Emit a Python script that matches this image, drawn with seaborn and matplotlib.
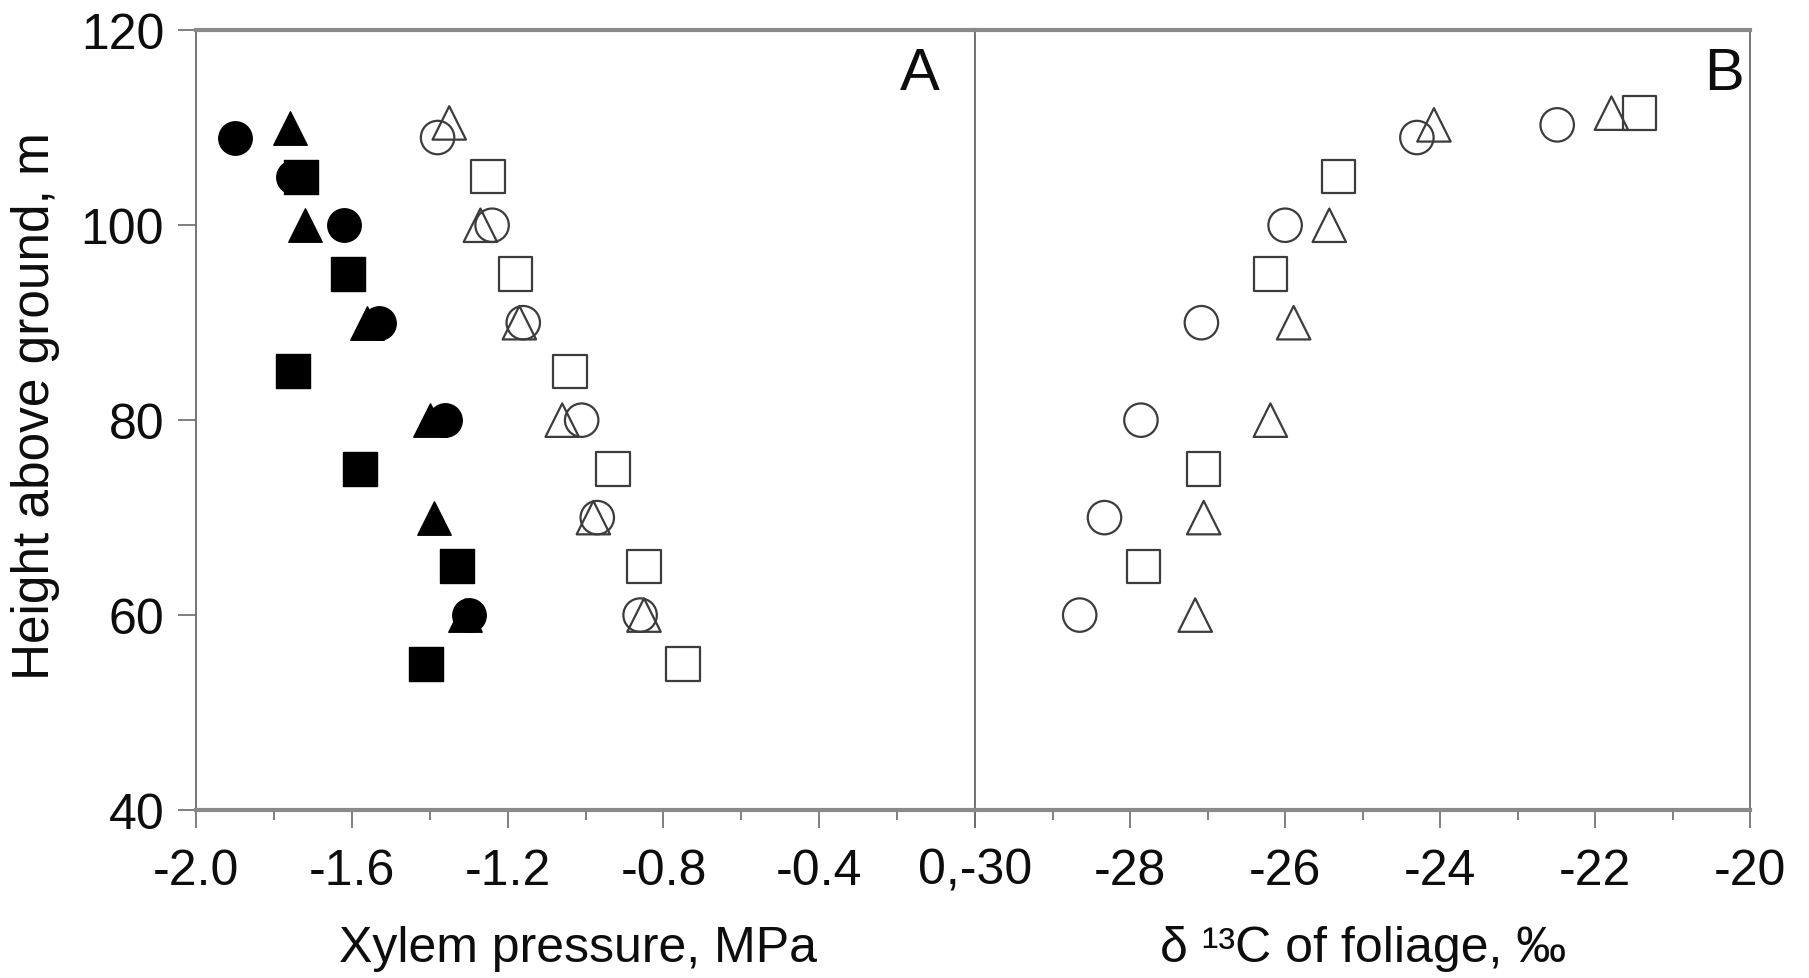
import numpy as np
import pandas as pd
import matplotlib
matplotlib.use("Agg")
import matplotlib.pyplot as plt
from matplotlib.ticker import MultipleLocator, FixedLocator
import seaborn as sns

# ── data ─────────────────────────────────────────────────────────────────────
# Panel A: xylem pressure (MPa) vs height (m)
a_fill_circle_x = [-1.90, -1.75, -1.62, -1.53, -1.36, -1.30]
a_fill_circle_y = [109, 105, 100, 90, 80, 60]
a_fill_tri_x = [-1.76, -1.72, -1.56, -1.40, -1.39, -1.31]
a_fill_tri_y = [110, 100, 90, 80, 70, 60]
a_fill_sq_x = [-1.73, -1.61, -1.75, -1.58, -1.33, -1.41]
a_fill_sq_y = [105, 95, 85, 75, 65, 55]

a_open_circle_x = [-1.38, -1.24, -1.16, -1.01, -0.97, -0.86]
a_open_circle_y = [109, 100, 90, 80, 70, 60]
a_open_tri_x = [-1.35, -1.27, -1.17, -1.06, -0.98, -0.85]
a_open_tri_y = [110.5, 100, 90, 80, 70, 60]
a_open_sq_x = [-1.25, -1.18, -1.04, -0.93, -0.85, -0.75]
a_open_sq_y = [105, 95, 85, 75, 65, 55]

# Panel B: delta 13C of foliage (per mil) vs height (m)
b_circle_x = [-28.65, -28.33, -27.86, -27.08, -26.00, -24.30, -22.49]
b_circle_y = [60, 70, 80, 90, 100, 109, 110.3]
b_tri_x = [-27.16, -27.05, -26.19, -25.89, -25.43, -24.08, -21.79]
b_tri_y = [60, 70, 80, 90, 100, 110.3, 111.5]
b_sq_x = [-27.83, -27.05, -26.19, -25.31, -21.43]
b_sq_y = [65, 75, 95, 105, 111.5]

y_ticks = [40, 60, 80, 100, 120]
a_ticks = [-2.0, -1.6, -1.2, -0.8, -0.4, 0.0]
a_tick_labels = ["-2.0", "-1.6", "-1.2", "-0.8", "-0.4", ""]
b_ticks = [-30, -28, -26, -24, -22, -20]
b_tick_labels = ["0,-30", "-28", "-26", "-24", "-22", "-20"]

# ── style ────────────────────────────────────────────────────────────────────
sns.set_theme(style="ticks")
plt.rcParams["font.family"] = ["Liberation Sans", "DejaVu Sans"]
plt.rcParams["axes.unicode_minus"] = False

SPINE = "#6a6a6a"
EDGE_OPEN = "#3c3c3c"
TXT = "#0d0d0d"
MS = 580
FS = 36

fig = plt.figure(figsize=(18.09, 9.79), dpi=100)
fig.patch.set_facecolor("white")
axA = fig.add_axes([0.1084, 0.1716, 0.539 - 0.1084, 0.968 - 0.1716])
axB = fig.add_axes([0.539, 0.1716, 0.9675 - 0.539, 0.968 - 0.1716], sharey=axA)


def pts(x, y):
    return pd.DataFrame({"x": x, "y": y})


def filled(ax, x, y, marker):
    sns.scatterplot(data=pts(x, y), x="x", y="y", marker=marker, s=MS,
                    color="black", edgecolor="black", linewidth=1.0,
                    ax=ax, zorder=3, legend=False)


def hollow(ax, x, y, marker):
    sns.scatterplot(data=pts(x, y), x="x", y="y", marker=marker, s=MS,
                    facecolor="none", edgecolor=EDGE_OPEN, linewidth=1.6,
                    ax=ax, zorder=3, legend=False)


# ── panel A ──────────────────────────────────────────────────────────────────
filled(axA, a_fill_circle_x, a_fill_circle_y, "o")
filled(axA, a_fill_tri_x, a_fill_tri_y, "^")
filled(axA, a_fill_sq_x, a_fill_sq_y, "s")
hollow(axA, a_open_circle_x, a_open_circle_y, "o")
hollow(axA, a_open_tri_x, a_open_tri_y, "^")
hollow(axA, a_open_sq_x, a_open_sq_y, "s")

# ── panel B ──────────────────────────────────────────────────────────────────
hollow(axB, b_circle_x, b_circle_y, "o")
hollow(axB, b_tri_x, b_tri_y, "^")
hollow(axB, b_sq_x, b_sq_y, "s")

# ── axes cosmetics ───────────────────────────────────────────────────────────
axA.set_xlim(-2.0, 0.0)
axB.set_xlim(-30, -20)
axA.set_ylim(40, 120)

axA.xaxis.set_major_locator(FixedLocator(a_ticks))
axA.set_xticklabels(a_tick_labels)
axA.xaxis.set_minor_locator(MultipleLocator(0.2))
axB.xaxis.set_major_locator(FixedLocator(b_ticks))
axB.set_xticklabels(b_tick_labels)
axB.xaxis.set_minor_locator(MultipleLocator(1))
axA.set_yticks(y_ticks)
axA.set_yticklabels([str(v) for v in y_ticks])

for ax in (axA, axB):
    ax.set_facecolor("white")
    for side in ("top", "bottom"):
        ax.spines[side].set_linewidth(3.0)
        ax.spines[side].set_color("#8a8a8a")
    for side in ("left", "right"):
        ax.spines[side].set_linewidth(1.3)
        ax.spines[side].set_color(SPINE)
    ax.tick_params(axis="x", which="major", direction="out", length=13,
                   width=1.2, color=SPINE, labelsize=FS, pad=14,
                   labelcolor=TXT)
    ax.tick_params(axis="x", which="minor", direction="out", length=7,
                   width=1.2, color=SPINE)
    ax.tick_params(axis="y", which="both", left=False, right=False,
                   labelleft=False)
    ax.set_xlabel("")
    ax.set_ylabel("")

axA.tick_params(axis="y", which="major", left=True, direction="out",
                length=13, width=1.2, color=SPINE, labelsize=FS, pad=10,
                labelleft=True, labelcolor=TXT)

axA.set_xlabel("Xylem pressure, MPa", fontsize=FS, color=TXT)
axA.xaxis.set_label_coords(0.49, -0.148)
axB.set_xlabel("δ ¹³C of foliage, ‰", fontsize=FS, color=TXT)
axB.xaxis.set_label_coords(0.5, -0.148)
axA.set_ylabel("Height above ground, m", fontsize=37, color=TXT)
axA.yaxis.set_label_coords(-0.175, 0.52)

axA.text(0.955, 0.925, "A", transform=axA.transAxes, ha="right",
         va="baseline", fontsize=43, color=TXT)
axB.text(0.992, 0.925, "B", transform=axB.transAxes, ha="right",
         va="baseline", fontsize=43, color=TXT)

fig.savefig("out.png", dpi=100, facecolor="white")
print("Saved: out.png")
